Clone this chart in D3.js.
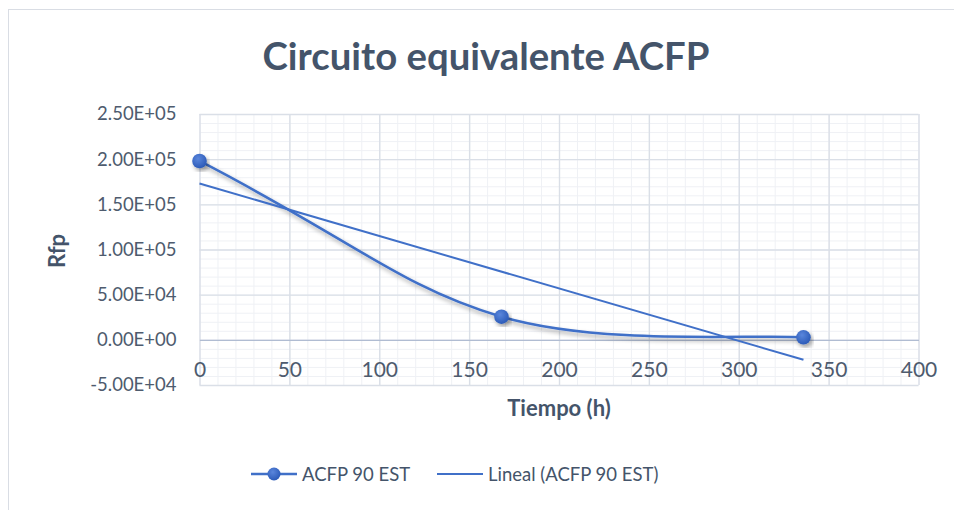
<!DOCTYPE html>
<html>
<head>
<meta charset="utf-8">
<script src="https://cdn.jsdelivr.net/npm/d3@7"></script>
<style>
  html, body { margin: 0; padding: 0; background: #ffffff; }
  svg { display: block; }
</style>
</head>
<body>
<svg id="chart" width="954" height="510"></svg>
<script>
// ---- data ----
const title = "Circuito equivalente ACFP";
const xLabel = "Tiempo (h)";
const yLabel = "Rfp";
const seriesName = "ACFP 90 EST";
const trendName = "Lineal (ACFP 90 EST)";
const hours = [0, 168, 336];
const rfp = [198000, 25600, 2800];
const xTicks = [0, 50, 100, 150, 200, 250, 300, 350, 400];
const yTicks = [-50000, 0, 50000, 100000, 150000, 200000, 250000];
const yTickLabels = ["-5.00E+04", "0.00E+00", "5.00E+04", "1.00E+05", "1.50E+05", "2.00E+05", "2.50E+05"];

// ---- layout ----
const W = 954, H = 510;
const plot = { left: 199.5, right: 918.5, top: 114, bottom: 385 };
const blue = "#4070c8";
const textCol = "#44546a";
const tickCol = "#4e5b6e";
const font = "Lato, 'Open Sans', sans-serif";

const svg = d3.select("#chart");
const defs = svg.append("defs");
const shadow = defs.append("filter").attr("id", "shadow")
  .attr("x", "-20%").attr("y", "-20%").attr("width", "140%").attr("height", "140%");
shadow.append("feDropShadow").attr("dx", 2).attr("dy", 3).attr("stdDeviation", 2.2)
  .attr("flood-color", "#000").attr("flood-opacity", 0.35);
const grad = defs.append("radialGradient").attr("id", "mgrad").attr("cx", "40%").attr("cy", "35%").attr("r", "65%");
grad.append("stop").attr("offset", "0%").attr("stop-color", "#5a86dc");
grad.append("stop").attr("offset", "100%").attr("stop-color", "#2c5bb8");

// outer chart border
svg.append("rect").attr("x", 8.5).attr("y", 9.5).attr("width", 1000).attr("height", 1000)
  .attr("fill", "#fff").attr("stroke", "#d9dde4").attr("stroke-width", 1);

const x = d3.scaleLinear().domain([xTicks[0], xTicks[xTicks.length - 1]]).range([plot.left, plot.right]);
const y = d3.scaleLinear().domain([yTicks[0], yTicks[yTicks.length - 1]]).range([plot.bottom, plot.top]);

// minor grid
const g = svg.append("g");
const xMinor = d3.range(xTicks[0], xTicks[xTicks.length - 1] + 0.001, 10);
const yMinor = d3.range(yTicks[0], yTicks[yTicks.length - 1] + 0.001, 10000);
g.append("g").call(d3.axisBottom(x).tickValues(xMinor).tickSize(-(plot.bottom - plot.top)).tickFormat(""))
  .attr("transform", `translate(0,${plot.bottom})`)
  .call(s => s.select(".domain").remove())
  .call(s => s.selectAll("line").attr("stroke", "#eff1f5").attr("stroke-width", 1));
g.append("g").call(d3.axisLeft(y).tickValues(yMinor).tickSize(-(plot.right - plot.left)).tickFormat(""))
  .attr("transform", `translate(${plot.left},0)`)
  .call(s => s.select(".domain").remove())
  .call(s => s.selectAll("line").attr("stroke", "#eff1f5").attr("stroke-width", 1));
// major grid
g.append("g").call(d3.axisBottom(x).tickValues(xTicks).tickSize(-(plot.bottom - plot.top)).tickFormat(""))
  .attr("transform", `translate(0,${plot.bottom})`)
  .call(s => s.select(".domain").remove())
  .call(s => s.selectAll("line").attr("stroke", "#dadfe7").attr("stroke-width", 1.4));
g.append("g").call(d3.axisLeft(y).tickValues(yTicks).tickSize(-(plot.right - plot.left)).tickFormat(""))
  .attr("transform", `translate(${plot.left},0)`)
  .call(s => s.select(".domain").remove())
  .call(s => s.selectAll("line").attr("stroke", "#dadfe7").attr("stroke-width", 1.4));

// zero axis line (x axis crosses at 0)
const xAxis = svg.append("g").attr("transform", `translate(0,${y(0)})`)
  .call(d3.axisBottom(x).tickValues(xTicks).tickSize(0).tickPadding(39));
xAxis.select(".domain").attr("stroke", "#b0bcd2").attr("stroke-width", 1.2);
xAxis.selectAll("text").attr("fill", tickCol).attr("font-family", font)
  .attr("font-size", 21).attr("dy", "-0.1em");

// y axis labels
const yAxis = svg.append("g").attr("transform", `translate(${plot.left},0)`)
  .call(d3.axisLeft(y).tickValues(yTicks).tickSize(0).tickPadding(23)
    .tickFormat((d, i) => yTickLabels[i]));
yAxis.select(".domain").remove();
yAxis.selectAll("text").attr("fill", tickCol).attr("font-family", font)
  .attr("font-size", 18.5);

// data
const pts = hours.map((h, i) => [h, rfp[i]]);
// linear trendline (least squares)
const mx = d3.mean(hours), my = d3.mean(rfp);
const slope = d3.sum(hours, (h, i) => (h - mx) * (rfp[i] - my)) / d3.sum(hours, h => (h - mx) * (h - mx));
const icpt = my - slope * mx;
const trendPts = [hours[0], hours[hours.length - 1]].map(h => [h, icpt + slope * h]);

// smoothed line (spreadsheet-style Bezier smoothing)
function smoothPath(p) {
  const path = d3.path();
  const n = p.length;
  path.moveTo(x(p[0][0]), y(p[0][1]));
  for (let i = 0; i < n - 1; i++) {
    const p0 = p[Math.max(0, i - 1)], p1 = p[i], p2 = p[i + 1], p3 = p[Math.min(n - 1, i + 2)];
    let c1;
    if (i === 0) c1 = [p1[0] + (p2[0] - p1[0]) / 2, p1[1] + (p2[1] - p1[1]) / 2];
    else c1 = [p1[0] + (p2[0] - p0[0]) / 6, p1[1] + (p2[1] - p0[1]) / 6];
    const c2 = [p2[0] - (p3[0] - p1[0]) / 6, p2[1] - (p3[1] - p1[1]) / 6];
    path.bezierCurveTo(x(c1[0]), y(c1[1]), x(c2[0]), y(c2[1]), x(p2[0]), y(p2[1]));
  }
  return path.toString();
}
const lineStraight = d3.line().x(d => x(d[0])).y(d => y(d[1]));

svg.append("path").attr("d", smoothPath(pts)).attr("fill", "none")
  .attr("stroke", blue).attr("stroke-width", 2.5).attr("filter", "url(#shadow)");
svg.selectAll("circle.m").data(pts).join("circle").attr("class", "m")
  .attr("cx", d => x(d[0])).attr("cy", d => y(d[1])).attr("r", 7.3)
  .attr("fill", "url(#mgrad)").attr("filter", "url(#shadow)");
svg.append("path").datum(trendPts).attr("d", lineStraight).attr("fill", "none")
  .attr("stroke", blue).attr("stroke-width", 2);

// title
svg.append("text").attr("x", 486).attr("y", 70).attr("text-anchor", "middle")
  .attr("font-family", font).attr("font-weight", 700).attr("font-size", 38)
  .attr("textLength", 447).attr("lengthAdjust", "spacingAndGlyphs")
  .attr("fill", textCol).text(title);

// axis titles
svg.append("text").attr("x", 559).attr("y", 416).attr("text-anchor", "middle")
  .attr("font-family", font).attr("font-weight", 700).attr("font-size", 22)
  .attr("fill", textCol).text(xLabel);
svg.append("text").attr("transform", "translate(65,251) rotate(-90)").attr("text-anchor", "middle")
  .attr("font-family", font).attr("font-weight", 700).attr("font-size", 22)
  .attr("fill", textCol).text(yLabel);

// legend
const leg = svg.append("g").attr("font-family", font).attr("font-size", 18.5).attr("fill", textCol);
const ly = 474;
leg.append("line").attr("x1", 251).attr("x2", 297).attr("y1", ly).attr("y2", ly)
  .attr("stroke", blue).attr("stroke-width", 2.5);
leg.append("circle").attr("cx", 274).attr("cy", ly).attr("r", 6.5).attr("fill", "url(#mgrad)");
leg.append("text").attr("x", 302).attr("y", ly).attr("dy", "0.36em").text(seriesName);
leg.append("line").attr("x1", 437).attr("x2", 483).attr("y1", ly).attr("y2", ly)
  .attr("stroke", blue).attr("stroke-width", 2);
leg.append("text").attr("x", 488).attr("y", ly).attr("dy", "0.36em").text(trendName);
</script>
</body>
</html>
